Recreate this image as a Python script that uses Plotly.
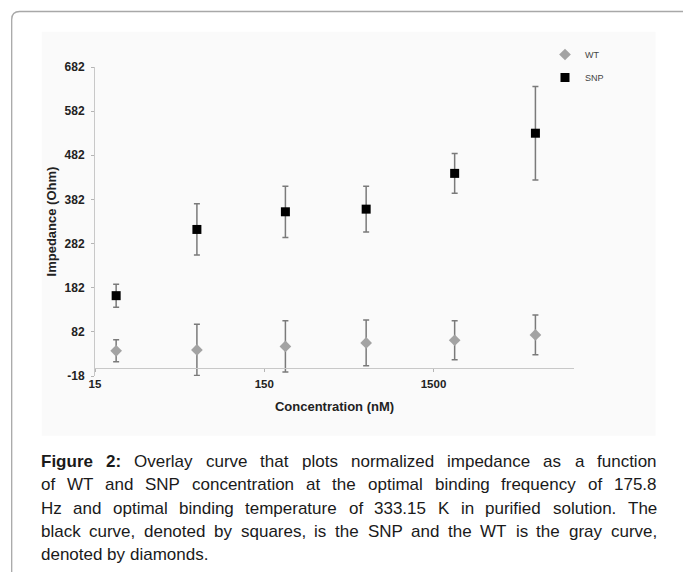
import math
import plotly.graph_objects as go

# ---------------- data ----------------
concentration_nM = [20, 60, 200, 600, 2000, 6000]
wt_impedance = [39, 41, 49, 57, 63, 75]
wt_error = [25, 58, 58, 52, 44, 45]
snp_impedance = [164, 314, 354, 360, 441, 532]
snp_error = [26, 58, 58, 52, 45, 106]
y_tick_values = [-18, 82, 182, 282, 382, 482, 582, 682]
y_tick_labels = ["-18", "82", "182", "282", "382", "482", "582", "682"]
x_tick_values = [15, 150, 1500]
x_tick_labels = ["15", "150", "1500"]
caption_lines = [
    "**Figure 2:** Overlay curve that plots normalized impedance as a function",
    "of WT and SNP concentration at the optimal binding frequency of 175.8",
    "Hz and optimal binding temperature of 333.15 K in purified solution. The",
    "black curve, denoted by squares, is the SNP and the WT is the gray curve,",
    "denoted by diamonds.",
]

# ---------------- geometry helpers (pixels -> paper) ----------------
W, H = 683, 572
PL, PR, PT, PB = 95, 574, 67, 376


def px(x):
    return (x - PL) / (PR - PL)


def py(y):
    return (PB - y) / (PB - PT)


FONT = "Arial, 'Liberation Sans', Helvetica, sans-serif"

# Arial advance widths (per 1000 em)
REG = {" ": 278, ",": 278, ".": 278, ":": 278, "(": 333, ")": 333}
for d in "0123456789":
    REG[d] = 556
REG.update(dict(a=556, b=556, c=500, d=556, e=556, f=278, g=556, h=556, i=222, j=222,
                k=500, l=222, m=833, n=556, o=556, p=556, q=556, r=333, s=500, t=278,
                u=556, v=500, w=722, x=500, y=500, z=500))
REG.update(dict(A=667, B=667, C=722, D=722, E=667, F=611, G=778, H=722, I=278, J=500,
                K=667, L=556, M=833, N=722, O=778, P=667, Q=778, R=722, S=667, T=611,
                U=722, V=667, W=944, X=667, Y=667, Z=611))
BOLD = dict(REG)
BOLD.update(dict(F=611, i=278, g=611, u=611, r=389, e=556))
BOLD[":"] = 333


def text_w(word, bold, size):
    tbl = BOLD if bold else REG
    return sum(tbl.get(ch, 556) for ch in word) * size / 1000.0


# ---------------- figure ----------------
fig = go.Figure()

fig.add_trace(go.Scatter(
    x=concentration_nM, y=wt_impedance, mode="markers", name="WT",
    legendgroup="wt",
    marker=dict(symbol="diamond", size=9, color="#a3a3a3"),
    error_y=dict(type="data", array=wt_error, visible=True, color="#7a7a7a",
                 thickness=1.5, width=3),
))
fig.add_trace(go.Scatter(
    x=concentration_nM, y=snp_impedance, mode="markers", name="SNP",
    legendgroup="snp",
    marker=dict(symbol="square", size=9, color="#000000"),
    error_y=dict(type="data", array=snp_error, visible=True, color="#7a7a7a",
                 thickness=1.5, width=3),
))

shapes = []
# light figure panel
shapes.append(dict(type="rect", xref="paper", yref="paper", layer="below",
                   x0=px(41.7), x1=px(655.5), y0=py(435.7), y1=py(31.7),
                   fillcolor="#fafafa", line=dict(width=0)))
# outer rounded border (open to the right and bottom)
bx, by, r = 11.7, 11.5, 8
path = (f"M {px(bx)},{py(600)} L {px(bx)},{py(by + r)} "
        f"Q {px(bx)},{py(by)} {px(bx + r)},{py(by)} L {px(700)},{py(by)}")
shapes.append(dict(type="path", xref="paper", yref="paper", path=path,
                   line=dict(color="#a8a8a8", width=1.3)))

# caption as justified words
annotations = []
CAP_SIZE = 17
left, right = 40.7, 656.7
line_centers = [461.5, 484.8, 508.1, 531.4, 554.7]
for li, line in enumerate(caption_lines):
    tokens = []
    rest = line
    if line.startswith("**"):
        end = line.index("**", 2)
        for w in line[2:end].split():
            tokens.append((w, True))
        rest = line[end + 2:].strip()
    for w in rest.split():
        tokens.append((w, False))
    widths = [text_w(w, b, CAP_SIZE) for w, b in tokens]
    justify = li < len(caption_lines) - 1
    if justify:
        gap = (right - left - sum(widths)) / (len(tokens) - 1)
    else:
        gap = REG[" "] * CAP_SIZE / 1000.0
    xcur = left
    for k, ((w, b), wd) in enumerate(zip(tokens, widths)):
        last = justify and k == len(tokens) - 1
        annotations.append(dict(
            x=px(right) if last else px(xcur), y=py(line_centers[li]),
            xref="paper", yref="paper", showarrow=False,
            xanchor="right" if last else "left", yanchor="middle",
            text=f"<b>{w}</b>" if b else w,
            borderpad=0, borderwidth=0,
            font=dict(family=FONT, size=CAP_SIZE, color="#1a1a1a"),
        ))
        xcur += wd + gap

fig.update_layout(
    width=W, height=H, autosize=False,
    margin=dict(l=PL, r=W - PR, t=PT, b=H - PB, pad=0),
    paper_bgcolor="#ffffff", plot_bgcolor="#fafafa",
    font=dict(family=FONT, color="#222222"),
    shapes=shapes, annotations=annotations,
    showlegend=True,
    legend=dict(x=px(545), y=py(40), xanchor="left", yanchor="top",
                bgcolor="rgba(0,0,0,0)", font=dict(size=9, color="#444444"),
                tracegroupgap=4, itemwidth=30),
    xaxis=dict(
        type="log", range=[math.log10(15), math.log10(15) + 2.83],
        tickvals=x_tick_values, ticktext=x_tick_labels,
        ticks="outside", ticklen=3, tickcolor="#b5b5b5",
        showline=True, linecolor="#c8c8c8", linewidth=1,
        showgrid=False, zeroline=False,
        anchor="free", position=18 / 700,
        tickfont=dict(size=11.5, weight="bold", color="#222222"),
        ticklabelstandoff=2,
        title=dict(text="Concentration (nM)", standoff=13,
                   font=dict(size=13, weight="bold", color="#222222")),
    ),
    yaxis=dict(
        range=[-18, 682], tickvals=y_tick_values, ticktext=y_tick_labels,
        ticks="outside", ticklen=3, tickcolor="#b5b5b5",
        showline=True, linecolor="#c8c8c8", linewidth=1,
        showgrid=False, zeroline=False,
        tickfont=dict(size=12, weight="bold", color="#222222"),
        ticklabelstandoff=4,
        title=dict(text="Impedance (Ohm)", standoff=5,
                   font=dict(size=13, weight="bold", color="#222222")),
    ),
)

fig.write_html("out.html", config={"displayModeBar": False},
               post_script="document.body.style.margin='0';")
